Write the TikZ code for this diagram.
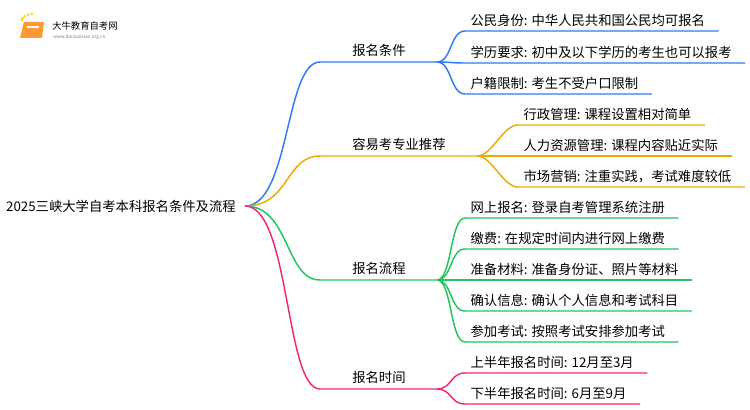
\documentclass[tikz,border=0pt]{standalone}
\usepackage{fontspec}
\setmainfont{Noto Sans CJK SC}
\usetikzlibrary{positioning}
\definecolor{cA}{HTML}{2F7BF6}
\definecolor{cB}{HTML}{F2A900}
\definecolor{cC}{HTML}{22C55E}
\definecolor{cD}{HTML}{F0287A}
\tikzstyle{rootS}=[anchor=east, inner sep=0pt, font=\fontsize{10}{12}\selectfont]
\tikzstyle{bS}=[anchor=south west, inner xsep=0pt, inner ysep=4pt, font=\fontsize{10}{12}\selectfont]
\tikzstyle{lS}=[anchor=south west, inner xsep=4pt, inner ysep=3pt, font=\fontsize{10}{12}\selectfont]
\tikzstyle{eS}=[line width=1.1pt]
\newcommand{\leaf}[6]{% name, parent, color, x, y, text
  \node[lS] (#1) at (#4,#5) {#6};
  \draw[eS,#3] (#2) .. controls +(15,0) and +(-15,0) .. (#1.south west) -- ([xshift=6pt]#1.south east);}
\newcommand{\branch}[5]{% name, color, y, end x, text
  \node[bS] (#1) at (352,#3) {#5};
  \coordinate (#1e) at (#4,#3);
  \draw[eS,#2] (r) .. controls (290,206) and (285,#3) .. (320,#3) -- (#1e);}
\begin{document}
\begin{tikzpicture}[x=0.75pt,y=-0.75pt]
\useasboundingbox (0,0) rectangle (750,410);
% logo
\fill[orange!80] (24,22) -- (44,22) -- (42,38) -- (20,38) -- cycle;
\fill[white] (27,26) rectangle (39,28);
\foreach \a in {100,120,...,180} \fill[yellow!70!orange] ({34+12*cos(\a)},{20-12*sin(\a)*0.5}) circle (1.4);
\node[anchor=west, inner sep=0pt, font=\fontsize{7}{8}\selectfont] (logo) at (52,26) {大牛教育自考网};
\node[anchor=north west, inner sep=0pt, font=\fontsize{3.5}{4}\selectfont, gray] (url) at (53,35) {www.daniuzixiao.org.cn};
% root
\node[rootS] (root) at (236,206) {2025三峡大学自考本科报名条件及流程};
\coordinate (r) at (245,206);
% branches
\branch{b1}{cA}{62}{437}{报名条件}
\branch{b2}{cB}{156}{477}{容易考专业推荐}
\branch{b3}{cC}{280}{437}{报名流程}
\branch{b4}{cD}{389}{437}{报名时间}
% leaves
\leaf{a1}{b1e}{cA}{465}{31}{公民身份: 中华人民共和国公民均可报名}
\leaf{a2}{b1e}{cA}{465}{63}{学历要求: 初中及以下学历的考生也可以报考}
\leaf{a3}{b1e}{cA}{465}{94}{户籍限制: 考生不受户口限制}
\leaf{c1}{b2e}{cB}{518}{125}{行政管理: 课程设置相对简单}
\leaf{c2}{b2e}{cB}{518}{156}{人力资源管理: 课程内容贴近实际}
\leaf{c3}{b2e}{cB}{518}{187}{市场营销: 注重实践，考试难度较低}
\leaf{d1}{b3e}{cC}{465}{218}{网上报名: 登录自考管理系统注册}
\leaf{d2}{b3e}{cC}{465}{249}{缴费: 在规定时间内进行网上缴费}
\leaf{d3}{b3e}{cC}{465}{280}{准备材料: 准备身份证、照片等材料}
\leaf{d4}{b3e}{cC}{465}{311}{确认信息: 确认个人信息和考试科目}
\leaf{d5}{b3e}{cC}{465}{342}{参加考试: 按照考试安排参加考试}
\leaf{e1}{b4e}{cD}{465}{373}{上半年报名时间: 12月至3月}
\leaf{e2}{b4e}{cD}{465}{404}{下半年报名时间: 6月至9月}
\end{tikzpicture}
\end{document}
